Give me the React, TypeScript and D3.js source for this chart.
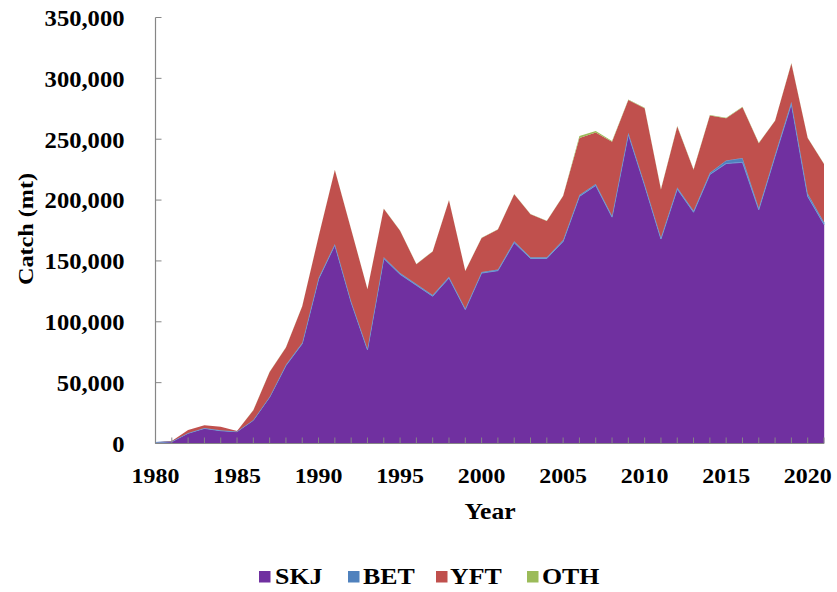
import React from "react";
import * as d3 from "d3";

const years: number[] = d3.range(1980, 2022);
const SKJ: number[] = [800, 1500, 8400, 12400, 10500, 9700, 19000, 38000, 64000, 82000, 135000, 163000, 116000, 77000, 152000, 139000, 130000, 121000, 136000, 110000, 140000, 142000, 165000, 152000, 152000, 166000, 203000, 212000, 186000, 254000, 212000, 168000, 209000, 190000, 221000, 230000, 231000, 192000, 236000, 279000, 203000, 180000];
const BET: number[] = [0, 100, 200, 300, 300, 200, 400, 500, 600, 700, 900, 1000, 900, 800, 1000, 1000, 1000, 1000, 1100, 1000, 1000, 1000, 1100, 1100, 1000, 1100, 1200, 1200, 1200, 1300, 1300, 1200, 1300, 1300, 1500, 2500, 3500, 1500, 1500, 1800, 2500, 1800];
const YFT: number[] = [0, 400, 2400, 2300, 3000, 300, 7900, 20300, 14200, 30100, 33900, 60800, 58900, 49000, 39800, 34800, 16300, 35800, 62700, 30800, 27800, 32800, 38700, 35200, 29800, 36200, 46900, 42300, 60800, 27000, 62200, 39500, 50200, 33700, 47000, 34800, 41800, 53200, 27600, 31500, 45400, 47800];
const OTH: number[] = [0, 0, 0, 0, 0, 0, 200, 200, 200, 200, 200, 200, 200, 200, 200, 200, 200, 200, 200, 200, 200, 200, 200, 200, 200, 200, 1500, 1200, 500, 300, 300, 300, 300, 300, 300, 300, 300, 300, 300, 300, 300, 300];

const seriesNames: string[] = ["SKJ", "BET", "YFT", "OTH"];
const seriesColors: string[] = ["#7030A0", "#4F81BD", "#C0504D", "#9BBB59"];
const yTicks: number[] = [0, 50000, 100000, 150000, 200000, 250000, 300000, 350000];
const xLabelYears: number[] = [1980, 1985, 1990, 1995, 2000, 2005, 2010, 2015, 2020];

function T(props: { x: number; y: number; size: number; sx: number; anchor?: string; rotate?: number; children: React.ReactNode }) {
  const { x, y, size, sx, anchor, rotate, children } = props;
  return (
    <text
      transform={`translate(${x},${y})${rotate ? ` rotate(${rotate})` : ""} scale(${sx},1)`}
      textAnchor={anchor || "start"}
      fontSize={size}
      fill="#000"
    >
      {children}
    </text>
  );
}

export default function App() {
  const W = 837, H = 592;
  const x0 = 155.5, x1 = 824, yb = 443.5, yt = 17.5;
  const x = d3.scaleLinear().domain([1980, 2021]).range([x0, x1]);
  const y = d3.scaleLinear().domain([0, 350000]).range([yb, yt]);
  const table = years.map((yr, i) => ({ year: yr, SKJ: SKJ[i], BET: BET[i], YFT: YFT[i], OTH: OTH[i] }));
  const stacked = d3.stack<any>().keys(seriesNames)(table);
  const area = d3.area<any>()
    .x((d: any) => x(d.data.year))
    .y0((d: any) => y(d[0]))
    .y1((d: any) => y(d[1]));
  const fmt = d3.format(",");
  const font = "'Liberation Serif', 'Times New Roman', serif";
  const axisColor = "#868686";
  const legendItems = [
    { name: "SKJ", sx: 259, tx: 275 },
    { name: "BET", sx: 348, tx: 363 },
    { name: "YFT", sx: 436, tx: 450 },
    { name: "OTH", sx: 527, tx: 542 },
  ];
  return (
    <svg width={W} height={H} style={{ position: "absolute", left: 0, top: 0, background: "#fff" }} fontFamily={font} fontWeight="bold">
      <rect x={0} y={0} width={W} height={H} fill="#fff" />
      {stacked.map((s, i) => (
        <path
          key={s.key}
          d={area(s as any) || ""}
          fill={seriesColors[i]}
          stroke={s.key === "BET" ? "#6f9fd6" : s.key === "SKJ" ? seriesColors[i] : "none"}
          strokeWidth={s.key === "BET" ? 0.9 : 0.4}
        />
      ))}
      <line x1={x0} x2={x0} y1={yt} y2={yb} stroke={axisColor} strokeWidth={1.2} />
      <line x1={x0} x2={x1} y1={yb} y2={yb} stroke={axisColor} strokeWidth={1.2} />
      {yTicks.map((t) => (
        <g key={t}>
          <line x1={x0} x2={x0 + 6} y1={y(t)} y2={y(t)} stroke={axisColor} strokeWidth={1} />
          <T x={124.5} y={y(t) + 8.3} size={23} sx={1.07} anchor="end">{fmt(t)}</T>
        </g>
      ))}
      {years.slice(1).map((yr) => (
        <line key={yr} x1={x(yr)} x2={x(yr)} y1={yb - 6} y2={yb} stroke={axisColor} strokeWidth={1} />
      ))}
      {xLabelYears.map((yr) => (
        <T key={yr} x={x(yr)} y={483} size={21} sx={1.14} anchor="middle">{yr}</T>
      ))}
      <T x={490} y={518.5} size={23.5} sx={1.09} anchor="middle">Year</T>
      <T x={33} y={229} size={22} sx={1.1} anchor="middle" rotate={-90}>Catch (mt)</T>
      {legendItems.map((l, i) => (
        <g key={l.name}>
          <rect x={l.sx} y={571} width={11.5} height={11.5} fill={seriesColors[i]} />
          <T x={l.tx} y={583.5} size={22.5} sx={1.15}>{l.name}</T>
        </g>
      ))}
    </svg>
  );
}
